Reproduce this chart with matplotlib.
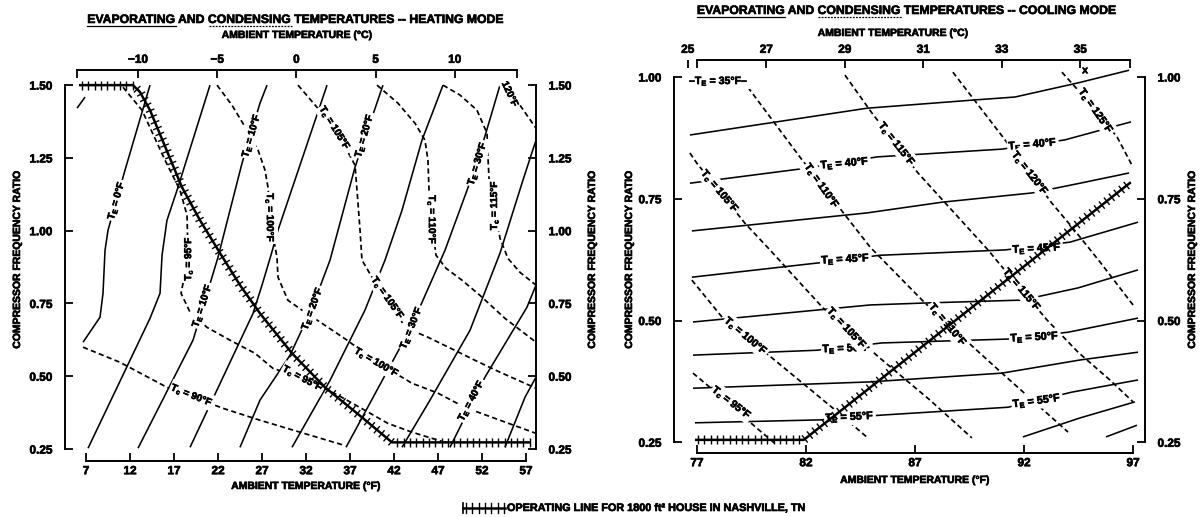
import numpy as np
import matplotlib
matplotlib.use("Agg")
import matplotlib.pyplot as plt
import matplotlib.patheffects as pe
from matplotlib.lines import Line2D
from matplotlib.collections import LineCollection

plt.rcParams['font.family'] = ['Liberation Sans Narrow', 'Liberation Sans', 'DejaVu Sans']
plt.rcParams['font.weight'] = 'bold'
plt.rcParams['mathtext.fontset'] = 'custom'
plt.rcParams['mathtext.rm'] = 'Liberation Sans:bold'
plt.rcParams['mathtext.it'] = 'Liberation Sans:bold'
plt.rcParams['mathtext.bf'] = 'Liberation Sans:bold'

# ---------------- heating mode ----------------
HEAT_F_TICKS = [7, 12, 17, 22, 27, 32, 37, 42, 47, 52, 57]
HEAT_C_TICKS = [-10, -5, 0, 5, 10]
HEAT_RATIO_TICKS = [0.25, 0.50, 0.75, 1.00, 1.25, 1.50]

# evaporating-temperature lines: (ambient °F, compressor frequency ratio)
HEAT_TE_M5 = [(5.98, 1.421), (6.89, 1.459)]
HEAT_TE_0 = [(14.27, 1.50), (11.43, 1.208), (9.5, 1.002), (9.16, 0.933), (8.93, 0.785), (8.59, 0.703), (6.66, 0.617)]
HEAT_TE_5 = [(21.09, 1.50), (17.45, 1.149), (16.2, 1.036), (15.64, 0.916), (15.41, 0.785), (14.27, 0.699), (7.23, 0.253)]
HEAT_TE_10 = [(27.57, 1.50), (26.77, 1.438), (24.73, 1.232), (22.0, 0.909), (19.16, 0.624), (12.91, 0.253)]
HEAT_TE_15 = [(34.39, 1.50), (28.82, 1.002), (28.02, 0.916), (27.0, 0.813), (25.98, 0.716), (18.82, 0.256)]
HEAT_TE_20 = [(40.75, 1.50), (37.57, 1.218), (34.73, 0.899), (32.68, 0.734), (30.18, 0.572), (26.77, 0.418), (24.5, 0.256)]
HEAT_TE_25 = [(47.57, 1.50), (45.18, 1.311), (42.91, 1.070), (40.98, 0.899), (38.7, 0.727), (34.73, 0.486), (30.41, 0.256)]
HEAT_TE_30 = [(54.05, 1.50), (51.43, 1.232), (47.8, 0.933), (43.93, 0.668), (36.55, 0.256)]
HEAT_TE_35 = [(58.14, 1.311), (56.66, 1.174), (54.05, 0.923), (50.64, 0.658), (46.09, 0.418), (42.91, 0.256)]
HEAT_TE_40 = [(58.14, 0.813), (57.11, 0.737), (52.34, 0.497), (48.36, 0.256)]
HEAT_TE_45 = [(58.14, 0.497), (56.89, 0.428), (54.61, 0.256)]

# condensing-temperature lines
HEAT_TC_90 = [(6.66, 0.600), (10.86, 0.548), (16.2, 0.462), (22.57, 0.390), (26.77, 0.349), (31.32, 0.308), (36.32, 0.263)]
HEAT_TC_95 = [(11.2, 1.493), (13.36, 1.414), (15.98, 1.242), (17.68, 1.139), (18.48, 1.053), (18.59, 0.905),
              (17.8, 0.785), (18.82, 0.720), (20.75, 0.668), (23.36, 0.624), (26.2, 0.579), (28.25, 0.527),
              (31.66, 0.493), (35.64, 0.435), (38.7, 0.383), (41.32, 0.338), (44.05, 0.308), (47.8, 0.273)]
HEAT_TC_100 = [(21.89, 1.50), (23.59, 1.431), (25.3, 1.345), (26.55, 1.277), (27.34, 1.208), (27.68, 1.149),
               (27.91, 1.043), (28.7, 0.909), (28.82, 0.840), (29.95, 0.761), (31.55, 0.727), (34.16, 0.675),
               (36.66, 0.624), (40.07, 0.548), (44.05, 0.476), (47.0, 0.442), (50.07, 0.393), (54.05, 0.349),
               (58.14, 0.304)]
HEAT_TC_105 = [(31.09, 1.50), (33.25, 1.424), (35.3, 1.352), (37.57, 1.225), (37.91, 1.095), (38.14, 1.002),
               (38.36, 0.899), (39.5, 0.840), (41.32, 0.768), (43.25, 0.668), (45.86, 0.634), (48.93, 0.589),
               (51.2, 0.555), (54.05, 0.514), (58.14, 0.459)]
HEAT_TC_110 = [(40.07, 1.50), (42.45, 1.438), (44.39, 1.369), (45.52, 1.311), (45.86, 1.242), (45.98, 1.139),
               (46.32, 1.029), (46.77, 0.916), (47.91, 0.871), (49.73, 0.830), (51.77, 0.778), (54.61, 0.699),
               (58.14, 0.617)]
HEAT_TC_115 = [(47.57, 1.50), (49.5, 1.466), (51.43, 1.414), (52.57, 1.335), (52.68, 1.253), (52.8, 1.180),
               (53.36, 1.088), (54.05, 0.974), (54.95, 0.905), (56.32, 0.857), (58.14, 0.813)]
HEAT_TC_120 = [(56.32, 1.431), (58.14, 1.352)]

# operating line, heating
HEAT_OP = [(6.2, 1.50), (12.34, 1.50), (13.14, 1.476), (14.27, 1.414), (17.91, 1.149), (19.95, 1.036),
           (22.23, 0.923), (24.5, 0.813), (26.77, 0.716), (30.41, 0.579), (34.16, 0.462), (38.36, 0.359),
           (41.77, 0.273), (57.45, 0.273)]

# ---------------- cooling mode ----------------
COOL_F_TICKS = [77, 82, 87, 92, 97]
COOL_C_TICKS = [25, 27, 29, 31, 33, 35]
COOL_RATIO_TICKS = [0.25, 0.50, 0.75, 1.00]

COOL_TE_37 = [(76.68, 0.881), (84.8, 0.936), (89.75, 0.953), (91.59, 0.959), (94.48, 0.988), (96.82, 1.014)]
COOL_TE_40 = [(76.68, 0.782), (82.05, 0.813), (85.26, 0.836), (90.99, 0.852), (93.88, 0.871), (96.91, 0.908)]
COOL_TE_42 = [(76.77, 0.684), (84.8, 0.721), (88.24, 0.743), (92.37, 0.762), (94.57, 0.782), (96.82, 0.803)]
COOL_TE_45 = [(76.77, 0.589), (82.5, 0.618), (85.39, 0.634), (91.13, 0.645), (94.11, 0.661), (97.23, 0.702)]
COOL_TE_47 = [(76.82, 0.497), (84.94, 0.532), (87.46, 0.536), (91.91, 0.542), (94.48, 0.567), (97.23, 0.604)]
COOL_TE_50 = [(76.82, 0.429), (82.5, 0.439), (85.49, 0.454), (91.27, 0.462), (94.02, 0.476), (97.23, 0.505)]
COOL_TE_52 = [(76.82, 0.361), (84.94, 0.374), (90.99, 0.392), (94.57, 0.419), (97.23, 0.435)]
COOL_TE_55 = [(76.91, 0.290), (82.64, 0.296), (85.53, 0.306), (91.27, 0.322), (94.2, 0.353), (97.23, 0.378)]
COOL_TE_57 = [(91.95, 0.261), (94.57, 0.300), (97.09, 0.333)]
COOL_TE_60 = [(95.76, 0.261), (97.18, 0.285)]

COOL_TC_95 = [(76.82, 0.392), (77.46, 0.368), (79.75, 0.279), (80.67, 0.244)]
COOL_TC_100 = [(76.77, 0.583), (78.19, 0.505), (80.67, 0.415), (83.24, 0.320), (84.84, 0.259)]
COOL_TC_105 = [(76.68, 0.844), (77.0, 0.823), (79.2, 0.700), (80.35, 0.645), (82.78, 0.526), (85.39, 0.423),
               (87.68, 0.337), (89.61, 0.259)]
COOL_TC_110 = [(79.34, 0.979), (81.72, 0.836), (83.79, 0.717), (84.94, 0.651), (87.46, 0.536), (89.98, 0.433),
               (90.99, 0.392), (94.02, 0.271)]
COOL_TC_115 = [(83.79, 1.004), (85.03, 0.926), (87.14, 0.803), (90.35, 0.645), (90.81, 0.620), (93.06, 0.501),
               (94.48, 0.435), (95.94, 0.378), (97.0, 0.333)]
COOL_TC_120 = [(88.74, 1.010), (91.13, 0.871), (93.28, 0.741), (94.2, 0.692), (95.49, 0.620), (97.0, 0.532)]
COOL_TC_125 = [(93.74, 1.010), (94.48, 0.973), (96.27, 0.877), (97.0, 0.815)]

COOL_OP = [(76.91, 0.255), (81.9, 0.255), (96.9, 0.784)]

# ---------------- figure ----------------
W, H = 1200, 517
fig = plt.figure(figsize=(W / 100, H / 100), dpi=100)

# heavier strokes on lettering, as in the printed original
HEAVY = [pe.withStroke(linewidth=0.45, foreground='black')]


def fig_box(x0, y0, x1, y1):
    return [x0 / W, 1 - y1 / H, (x1 - x0) / W, (y1 - y0) / H]


def fx(px):
    return px / W


def fy(py):
    return 1 - py / H


SOLID = dict(color='black', lw=1.15, solid_capstyle='butt', zorder=2)
DASHED = dict(color='black', lw=1.25, linestyle=(0, (3.0, 1.9)), zorder=2)


def draw(ax, pts, style):
    xs, ys = zip(*pts)
    ax.plot(xs, ys, **style)


def hatch_segments(disp, spacing=6.3, half=4.6):
    """Cross ticks (display pixels) spaced evenly along a polyline."""
    d = np.diff(disp, axis=0)
    seg_len = np.hypot(d[:, 0], d[:, 1])
    cum = np.concatenate([[0.0], np.cumsum(seg_len)])
    s = np.arange(spacing / 2, cum[-1], spacing)
    px = np.interp(s, cum, disp[:, 0])
    py = np.interp(s, cum, disp[:, 1])
    idx = np.clip(np.searchsorted(cum, s, side='right') - 1, 0, len(seg_len) - 1)
    unit = d[idx] / seg_len[idx][:, None]
    nrm = np.column_stack([-unit[:, 1], unit[:, 0]])
    centre = np.column_stack([px, py])
    return centre - nrm * half, centre + nrm * half


def draw_op(ax, pts):
    xs, ys = zip(*pts)
    ax.plot(xs, ys, color='black', lw=1.8, zorder=5, solid_capstyle='butt')
    disp = ax.transData.transform(np.column_stack([xs, ys]))
    a, b = hatch_segments(disp)
    inv = ax.transData.inverted()
    segs = [inv.transform(np.vstack([p, q])) for p, q in zip(a, b)]
    ax.add_collection(LineCollection(segs, colors='black', linewidths=1.0, zorder=5))


def label(ax, x, y, s, rot, size=7.2):
    ax.text(x, y, s, rotation=rot, rotation_mode='anchor', ha='center', va='center',
            fontsize=size, fontweight='bold', zorder=3, path_effects=HEAVY,
            bbox=dict(boxstyle='square,pad=0.12', fc='white', ec='none'))


def f_from_c(c):
    return c * 9 / 5 + 32


def style_axes(ax, xlim, ylim, xticks, yticks, xbounds, ybounds,
               cticks, cbounds, cshift):
    ax.set_xlim(*xlim)
    ax.set_ylim(*ylim)
    for s in ('left', 'right', 'bottom'):
        ax.spines[s].set_linewidth(1.4)
    ax.spines['top'].set_visible(False)
    ax.spines['bottom'].set_bounds(*xbounds)
    ax.spines['left'].set_bounds(*ybounds)
    ax.spines['right'].set_bounds(*ybounds)
    ax.set_xticks(xticks)
    ax.set_xticklabels([str(t) for t in xticks])
    ax.set_yticks(yticks)
    ax.set_yticklabels(['%.2f' % t for t in yticks])
    ax.tick_params(axis='x', direction='in', length=6, width=1.3, pad=3, labelsize=8.5)
    ax.tick_params(axis='y', direction='in', length=6, width=1.3, pad=9, labelsize=8.5,
                   left=True, right=True, labelleft=True, labelright=True)
    ax.patch.set_visible(False)

    top = ax.twiny()
    top.set_xlim(xlim[0] + cshift, xlim[1] + cshift)
    for s in ('left', 'right', 'bottom'):
        top.spines[s].set_visible(False)
    top.spines['top'].set_linewidth(1.4)
    top.spines['top'].set_bounds(cbounds[0] + cshift, cbounds[1] + cshift)
    top.set_xticks([f_from_c(c) for c in cticks])
    top.set_xticklabels([('\u2212%d' % -c) if c < 0 else str(c) for c in cticks])
    top.set_xticks([cbounds[0] + cshift, cbounds[1] + cshift], minor=True)
    top.tick_params(axis='x', which='both', direction='in', length=6, width=1.3, pad=3, labelsize=8.5)
    for a in (ax, top):
        for t in a.get_xticklabels() + a.get_yticklabels() + a.yaxis.get_ticklabels(which='both'):
            t.set_path_effects(HEAVY)
        for t in a.xaxis.get_majorticklabels() + a.yaxis.get_majorticklabels():
            t.set_path_effects(HEAVY)
    return top


# ---- heating panel ----
ax_h = fig.add_axes(fig_box(65, 70, 536, 461))
style_axes(ax_h, (4.61, 58.14), (0.209, 1.552), HEAT_F_TICKS, HEAT_RATIO_TICKS,
           (7, 57), (0.25, 1.50), HEAT_C_TICKS, (5.98, 55.98), 1.09)

for curve in (HEAT_TE_M5, HEAT_TE_0, HEAT_TE_5, HEAT_TE_10, HEAT_TE_15, HEAT_TE_20, HEAT_TE_25,
              HEAT_TE_30, HEAT_TE_35, HEAT_TE_40, HEAT_TE_45):
    draw(ax_h, curve, SOLID)
for curve in (HEAT_TC_90, HEAT_TC_95, HEAT_TC_100, HEAT_TC_105, HEAT_TC_110, HEAT_TC_115, HEAT_TC_120):
    draw(ax_h, curve, DASHED)

TE = r'T$_\mathrm{E}$'
TC = r'T$_\mathrm{c}$'
label(ax_h, 10.41, 1.105, TE + ' = 0°F', 74)
label(ax_h, 25.75, 1.328, TE + ' = 10°F', 74)
label(ax_h, 20.18, 0.744, TE + ' = 10°F', 72)
label(ax_h, 38.59, 1.328, TE + ' = 20°F', 74)
label(ax_h, 32.68, 0.734, TE + ' = 20°F', 70)
label(ax_h, 51.43, 1.232, TE + ' = 30°F', 73)
label(ax_h, 43.93, 0.668, TE + ' = 30°F', 68)
label(ax_h, 50.75, 0.418, TE + ' = 40°F', 62)
label(ax_h, 19.05, 0.435, TC + ' = 90°F', -22)
label(ax_h, 18.59, 0.905, TC + ' = 95°F', 90)
label(ax_h, 31.66, 0.493, TC + ' = 95°F', -28)
label(ax_h, 27.91, 1.043, TC + ' = 100°F', -90)
label(ax_h, 40.07, 0.548, TC + ' = 100°F', -30)
label(ax_h, 35.3, 1.352, TC + ' = 105°F', -58)
label(ax_h, 41.32, 0.768, TC + ' = 105°F', -55)
label(ax_h, 46.32, 1.036, TC + ' = 110°F', -90)
label(ax_h, 53.36, 1.088, TC + ' = 115°F', 90)
label(ax_h, 55.18, 1.470, '120°F', -65)

draw_op(ax_h, HEAT_OP)

# ---- cooling panel ----
ax_c = fig.add_axes(fig_box(674, 60, 1145, 453))
style_axes(ax_c, (75.95, 97.55), (0.228, 1.035), COOL_F_TICKS, COOL_RATIO_TICKS,
           (77, 97), (0.25, 1.00), COOL_C_TICKS, (77.0, 96.86), 0.42)

for curve in (COOL_TE_37, COOL_TE_40, COOL_TE_42, COOL_TE_45, COOL_TE_47, COOL_TE_50,
              COOL_TE_52, COOL_TE_55, COOL_TE_57, COOL_TE_60):
    draw(ax_c, curve, SOLID)
for curve in (COOL_TC_95, COOL_TC_100, COOL_TC_105, COOL_TC_110, COOL_TC_115, COOL_TC_120, COOL_TC_125):
    draw(ax_c, curve, DASHED)

label(ax_c, 78.0, 0.992, '\u2013' + TE + ' = 35°F\u2013', 0, 7.6)
label(ax_c, 83.79, 0.823, TE + ' = 40°F', 5, 7.8)
label(ax_c, 92.41, 0.862, TE + ' = 40°F', 5, 7.8)
label(ax_c, 83.83, 0.626, TE + ' = 45°F', 3, 7.8)
label(ax_c, 92.6, 0.648, TE + ' = 45°F', 3, 7.8)
label(ax_c, 83.88, 0.443, TE + ' = 50°F', 2, 7.8)
label(ax_c, 92.5, 0.466, TE + ' = 50°F', 3, 7.8)
label(ax_c, 84.02, 0.302, TE + ' = 55°F', 3, 7.8)
label(ax_c, 92.6, 0.335, TE + ' = 55°F', 8, 7.8)
label(ax_c, 78.6, 0.331, TC + ' = 95°F', -38, 7.6)
label(ax_c, 79.25, 0.468, TC + ' = 100°F', -40, 7.6)
label(ax_c, 78.06, 0.765, TC + ' = 105°F', -50, 7.6)
label(ax_c, 83.88, 0.484, TC + ' = 105°F', -47, 7.6)
label(ax_c, 82.73, 0.776, TC + ' = 110°F', -55, 7.6)
label(ax_c, 88.51, 0.491, TC + ' = 110°F', -50, 7.6)
label(ax_c, 86.17, 0.862, TC + ' = 115°F', -52, 7.6)
label(ax_c, 91.91, 0.563, TC + ' = 115°F', -50, 7.6)
label(ax_c, 92.28, 0.802, TC + ' = 120°F', -52, 7.6)
label(ax_c, 95.3, 0.930, TC + ' = 125°F', -55, 7.6)
ax_c.text(94.8, 1.014, 'x', ha='center', va='center', fontsize=7.5, fontweight='bold', path_effects=HEAVY)

draw_op(ax_c, COOL_OP)

# ---- titles and axis labels ----
renderer = fig.canvas.get_renderer()


def text_width(s, size):
    t = fig.text(0, 0, s, fontsize=size, fontweight='bold')
    w = t.get_window_extent(renderer).width
    t.remove()
    return w


def title(xc, yc, text, size=8.8):
    t = fig.text(fx(xc), fy(yc), text, ha='center', va='center', fontsize=size, fontweight='bold',
                 path_effects=HEAVY)
    bb = t.get_window_extent(renderer)
    y_line = (bb.y0 + 0.5) / H
    w_evap = text_width('EVAPORATING', size)
    fig.add_artist(Line2D([bb.x0 / W, (bb.x0 + w_evap) / W], [y_line, y_line],
                          transform=fig.transFigure, color='black', lw=0.9))
    end = bb.x0 + text_width('EVAPORATING AND CONDENSING', size)
    start = end - text_width('CONDENSING', size)
    fig.add_artist(Line2D([start / W, end / W], [y_line, y_line], transform=fig.transFigure,
                          color='black', lw=0.9, linestyle=(0, (1.5, 1.0))))


title(297, 20, 'EVAPORATING AND CONDENSING TEMPERATURES -- HEATING MODE')
title(908, 11, 'EVAPORATING AND CONDENSING TEMPERATURES -- COOLING MODE')

AX_LABEL = dict(ha='center', va='center', fontsize=7.5, fontweight='bold', path_effects=HEAVY)
fig.text(fx(297), fy(35), 'AMBIENT TEMPERATURE (°C)', **AX_LABEL)
fig.text(fx(893), fy(33), 'AMBIENT TEMPERATURE (°C)', **AX_LABEL)
fig.text(fx(306), fy(486), 'AMBIENT TEMPERATURE (°F)', **AX_LABEL)
fig.text(fx(915), fy(480), 'AMBIENT TEMPERATURE (°F)', **AX_LABEL)
for xp in (17, 592, 629, 1192):
    fig.text(fx(xp), fy(260), 'COMPRESSOR FREQUENCY RATIO', rotation=90, **AX_LABEL)

# ---- operating-line key ----
key = np.array([[463.0, H - 508.0], [505.0, H - 508.0]])
fig.add_artist(Line2D(key[:, 0] / W, key[:, 1] / H, transform=fig.transFigure, color='black', lw=1.8))
ka, kb = hatch_segments(key)
for p, q in zip(ka, kb):
    fig.add_artist(Line2D([p[0] / W, q[0] / W], [p[1] / H, q[1] / H], transform=fig.transFigure,
                          color='black', lw=1.0))
fig.add_artist(Line2D([fx(463), fx(463)], [fy(503), fy(513)], transform=fig.transFigure,
                      color='black', lw=1.2))
fig.text(fx(507), fy(508), 'OPERATING LINE FOR 1800 ft² HOUSE IN NASHVILLE, TN',
         ha='left', va='center', fontsize=7.8, fontweight='bold', path_effects=HEAVY)

fig.savefig('out.png', dpi=100, facecolor='white')
